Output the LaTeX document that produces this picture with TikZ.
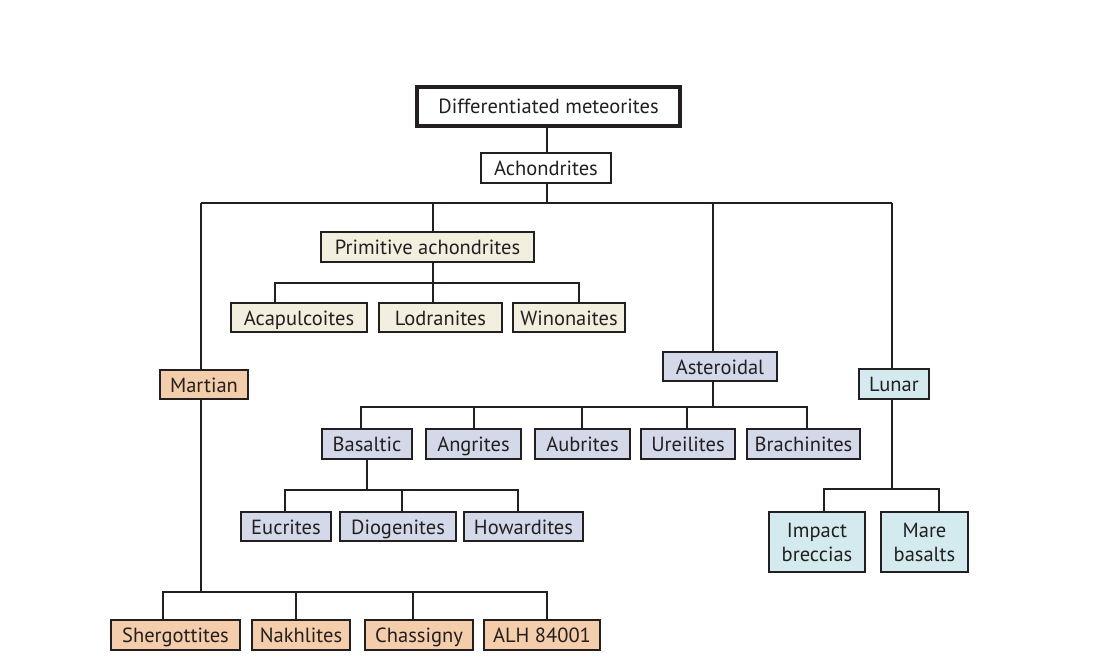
\documentclass[tikz,border=0pt]{standalone}
\usepackage{fontspec}
\setmainfont{PT Sans}
\definecolor{ink}{HTML}{231F20}
\definecolor{cream}{HTML}{F3EFDF}
\definecolor{mars}{HTML}{F4CDAA}
\definecolor{aster}{HTML}{D3D9E8}
\definecolor{luna}{HTML}{D3EBEF}
\tikzset{
  box/.style={draw=ink, line width=2pt, inner sep=0pt, text=ink, align=center,
    text height=15.5pt, text depth=0.5pt,
    font=\fontsize{20.5}{24}\selectfont},
  twoline/.style={text height=, text depth=},
  link/.style={draw=ink, line width=2pt},
}
\newcommand{\bx}[8][]{% opts, name, x1, y1, x2, y2, fill, text
  \node[box, #1, fill=#7, minimum width=#5-#3, minimum height=#6-#4] (#2) at ({(#3+#5)/2},{(#4+#6)/2}) {#8};}
\begin{document}
\begin{tikzpicture}[x=1pt,y=-1pt]
\useasboundingbox (0,0) rectangle (1103,671);
\node[box, line width=4pt, fill=white, minimum width=263, minimum height=39] (diff) at (548.5,106.5) {Differentiated meteorites};
\bx{ach}{481}{153}{611}{183}{white}{Achondrites}
\bx{prim}{321}{232}{534}{262}{cream}{Primitive achondrites}
\bx{acap}{231}{303}{367}{332}{cream}{Acapulcoites}
\bx{lodr}{379}{303}{502}{332}{cream}{Lodranites}
\bx{wino}{513}{303}{625}{332}{cream}{Winonaites}
\bx{mart}{160}{370}{248}{399}{mars}{Martian}
\bx{sher}{111}{620}{240}{650}{mars}{Shergottites}
\bx{nakh}{252}{620}{350}{650}{mars}{Nakhlites}
\bx{chas}{365}{620}{473}{650}{mars}{Chassigny}
\bx{alh}{484}{620}{600}{650}{mars}{ALH 84001}
\bx{ast}{663}{352}{777}{381}{aster}{Asteroidal}
\bx{basa}{322}{429}{412}{459}{aster}{Basaltic}
\bx{angr}{426}{429}{521}{459}{aster}{Angrites}
\bx{aubr}{535}{429}{630}{459}{aster}{Aubrites}
\bx{ureil}{641}{429}{735}{459}{aster}{Ureilites}
\bx{brach}{747}{429}{860}{459}{aster}{Brachinites}
\bx{eucr}{241}{512}{331}{541}{aster}{Eucrites}
\bx{diog}{340}{512}{456}{541}{aster}{Diogenites}
\bx{howa}{464}{512}{583}{541}{aster}{Howardites}
\bx{lun}{859}{369}{929}{399}{luna}{Lunar}
\bx[twoline]{impa}{769}{512}{865}{572}{luna}{Impact\\breccias}
\bx[twoline]{mare}{881}{512}{968}{572}{luna}{Mare\\basalts}
% connectors
\draw[link] (diff.south -| 547,0) -- (ach.north -| 547,0);
\coordinate (top) at (547,203);
\draw[link] (ach.south -| top) -- (top);
\draw[link] (201,203) coordinate (tl) -- (892,203) coordinate (tr);
\draw[link] (prim.north -| 433,0) -- (433,203);
\draw[link] (ast.north -| 713,0) -- (713,203);
\draw[link] (lun.north -| 892,0) -- (892,203);
\draw[link] (mart.north -| tl) -- (tl);
% primitive
\coordinate (pb) at (433,283);
\draw[link] (prim.south -| pb) -- (pb);
\draw[link] (acap.north -| 275,0) |- (pb) -| (wino.north -| 579,0);
\draw[link] (pb) -- (lodr.north -| pb);
% martian
\coordinate (mb) at (201,592);
\draw[link] (mart.south -| mb) -- (mb);
\draw[link] (sher.north -| 163,0) |- (547,592) -- (alh.north -| 547,0);
\draw[link] (296,592) -- (nakh.north -| 296,0);
\draw[link] (413,592) -- (chas.north -| 413,0);
% asteroidal
\coordinate (ab) at (713,407);
\draw[link] (ast.south -| ab) -- (ab);
\draw[link] (basa.north -| 361,0) |- (807,407) -- (brach.north -| 807,0);
\draw[link] (474,407) -- (angr.north -| 474,0);
\draw[link] (582,407) -- (aubr.north -| 582,0);
\draw[link] (687,407) -- (ureil.north -| 687,0);
% basaltic
\coordinate (bb) at (402,490);
\draw[link] (basa.south -| 367,0) -- (367,490);
\draw[link] (eucr.north -| 285,0) |- (518,490) -- (howa.north -| 518,0);
\draw[link] (bb) -- (diog.north -| bb);
% lunar
\draw[link] (lun.south -| 892,0) -- (892,489);
\draw[link] (impa.north -| 824,0) |- (939,489) -- (mare.north -| 939,0);
\end{tikzpicture}
\end{document}
